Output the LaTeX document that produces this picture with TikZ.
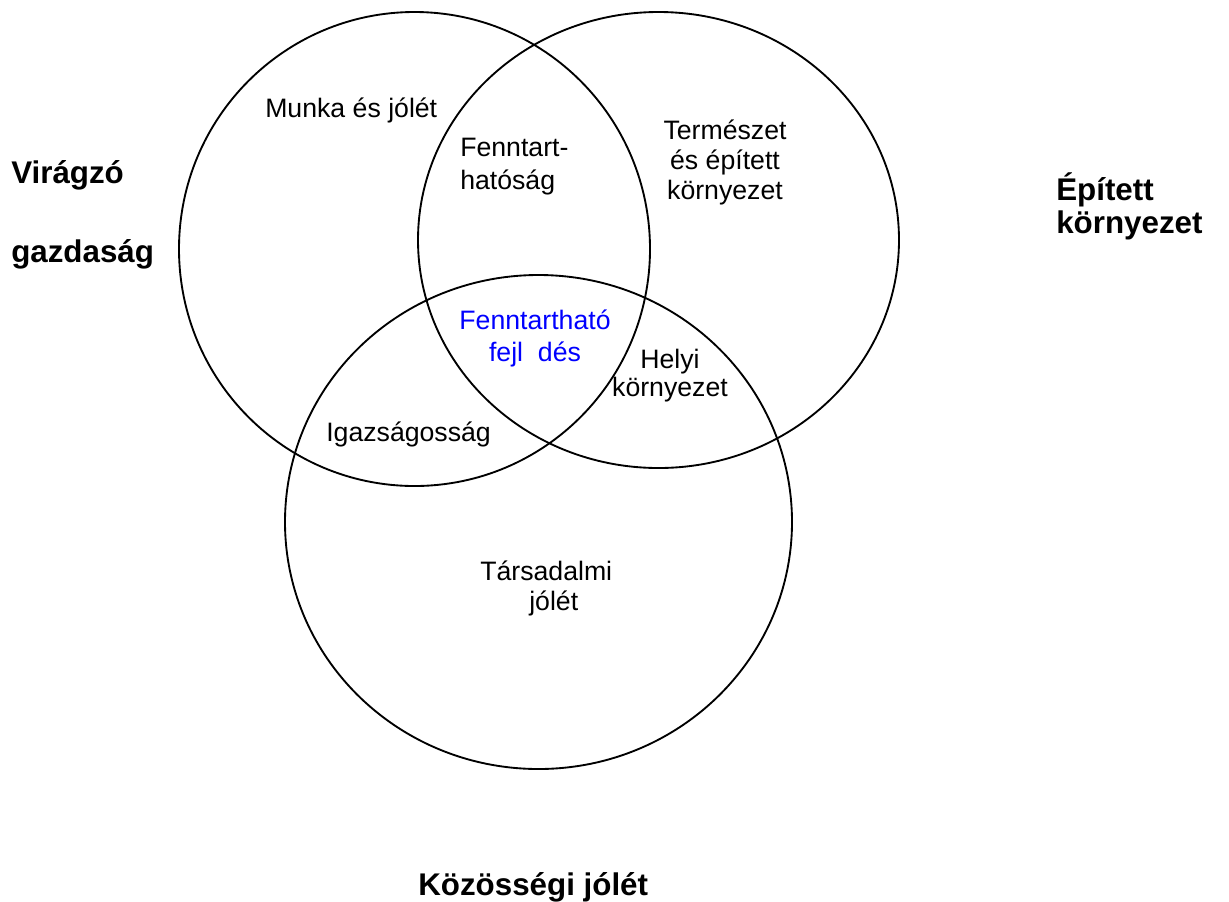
\documentclass[tikz,border=0pt]{standalone}
\usepackage{xcolor}
\usepackage{fontspec}
\setmainfont{Liberation Sans}
\usepackage{tikz}

\begin{document}
\begin{tikzpicture}[x=0.75pt,y=0.75pt,yscale=-1,xscale=1,
  ring/.style={line width=1.4},
  txt/.style={inner sep=0.75pt, font=\fontsize{20}{24}\selectfont},
  bigtxt/.style={inner sep=0.75pt, font=\fontsize{23.5}{28}\selectfont\bfseries}]
\useasboundingbox (0,0) rectangle (1229,901);

%Shape: Ellipse [id:gazdasag]
\draw  [ring]  (414.5,249) ellipse [x radius=235.5, y radius=237] ;
%Shape: Ellipse [id:kornyezet]
\draw  [ring]  (658.5,240) ellipse [x radius=240.5, y radius=228] ;
%Shape: Ellipse [id:kozosseg]
\draw  [ring]  (538.5,522) ellipse [x radius=253.5, y radius=247] ;

% Text Node
\draw (10,183) node (viragzo) [anchor=base west][bigtxt] {Virágzó};
% Text Node
\draw (10,262) node (gazd) [anchor=base west][bigtxt] {gazdaság};
% Text Node
\draw (1055,200) node (epitett) [anchor=base west][bigtxt] {Épített};
% Text Node
\draw (1055,233) node (kornyb) [anchor=base west][bigtxt] {környezet};
% Text Node
\draw (417,895) node (kozosseg) [anchor=base west][bigtxt] {Közösségi jólét};

% Text Node
\draw (264,117) node (munka) [anchor=base west][txt] {Munka és jólét};
% Text Node
\draw (459,156) node (fennt1) [anchor=base west][txt] {Fenntart-};
% Text Node
\draw (459,189) node (fennt2) [anchor=base west][txt] {hatóság};
% Text Node
\draw (725,139) node (term1) [anchor=base][txt] {Természet};
% Text Node
\draw (725,169) node (term2) [anchor=base][txt] {és épített};
% Text Node
\draw (725,199) node (term3) [anchor=base][txt] {környezet};
% Text Node
\draw (535,329) node (fejl1) [anchor=base][txt] {\textcolor[rgb]{0,0,1}{Fenntartható}};
% Text Node
\draw (535,361) node (fejl2) [anchor=base][txt] {\textcolor[rgb]{0,0,1}{fejl\ \ dés}};
% Text Node
\draw (670,368) node (helyi1) [anchor=base][txt] {Helyi};
% Text Node
\draw (670,396) node (helyi2) [anchor=base][txt] {környezet};
% Text Node
\draw (325,441) node (igazsag) [anchor=base west][txt] {Igazságosság};
% Text Node
\draw (479,580) node (tars1) [anchor=base west][txt] {Társadalmi};
% Text Node
\draw (528,610) node (tars2) [anchor=base west][txt] {jólét};

\end{tikzpicture}
\end{document}
